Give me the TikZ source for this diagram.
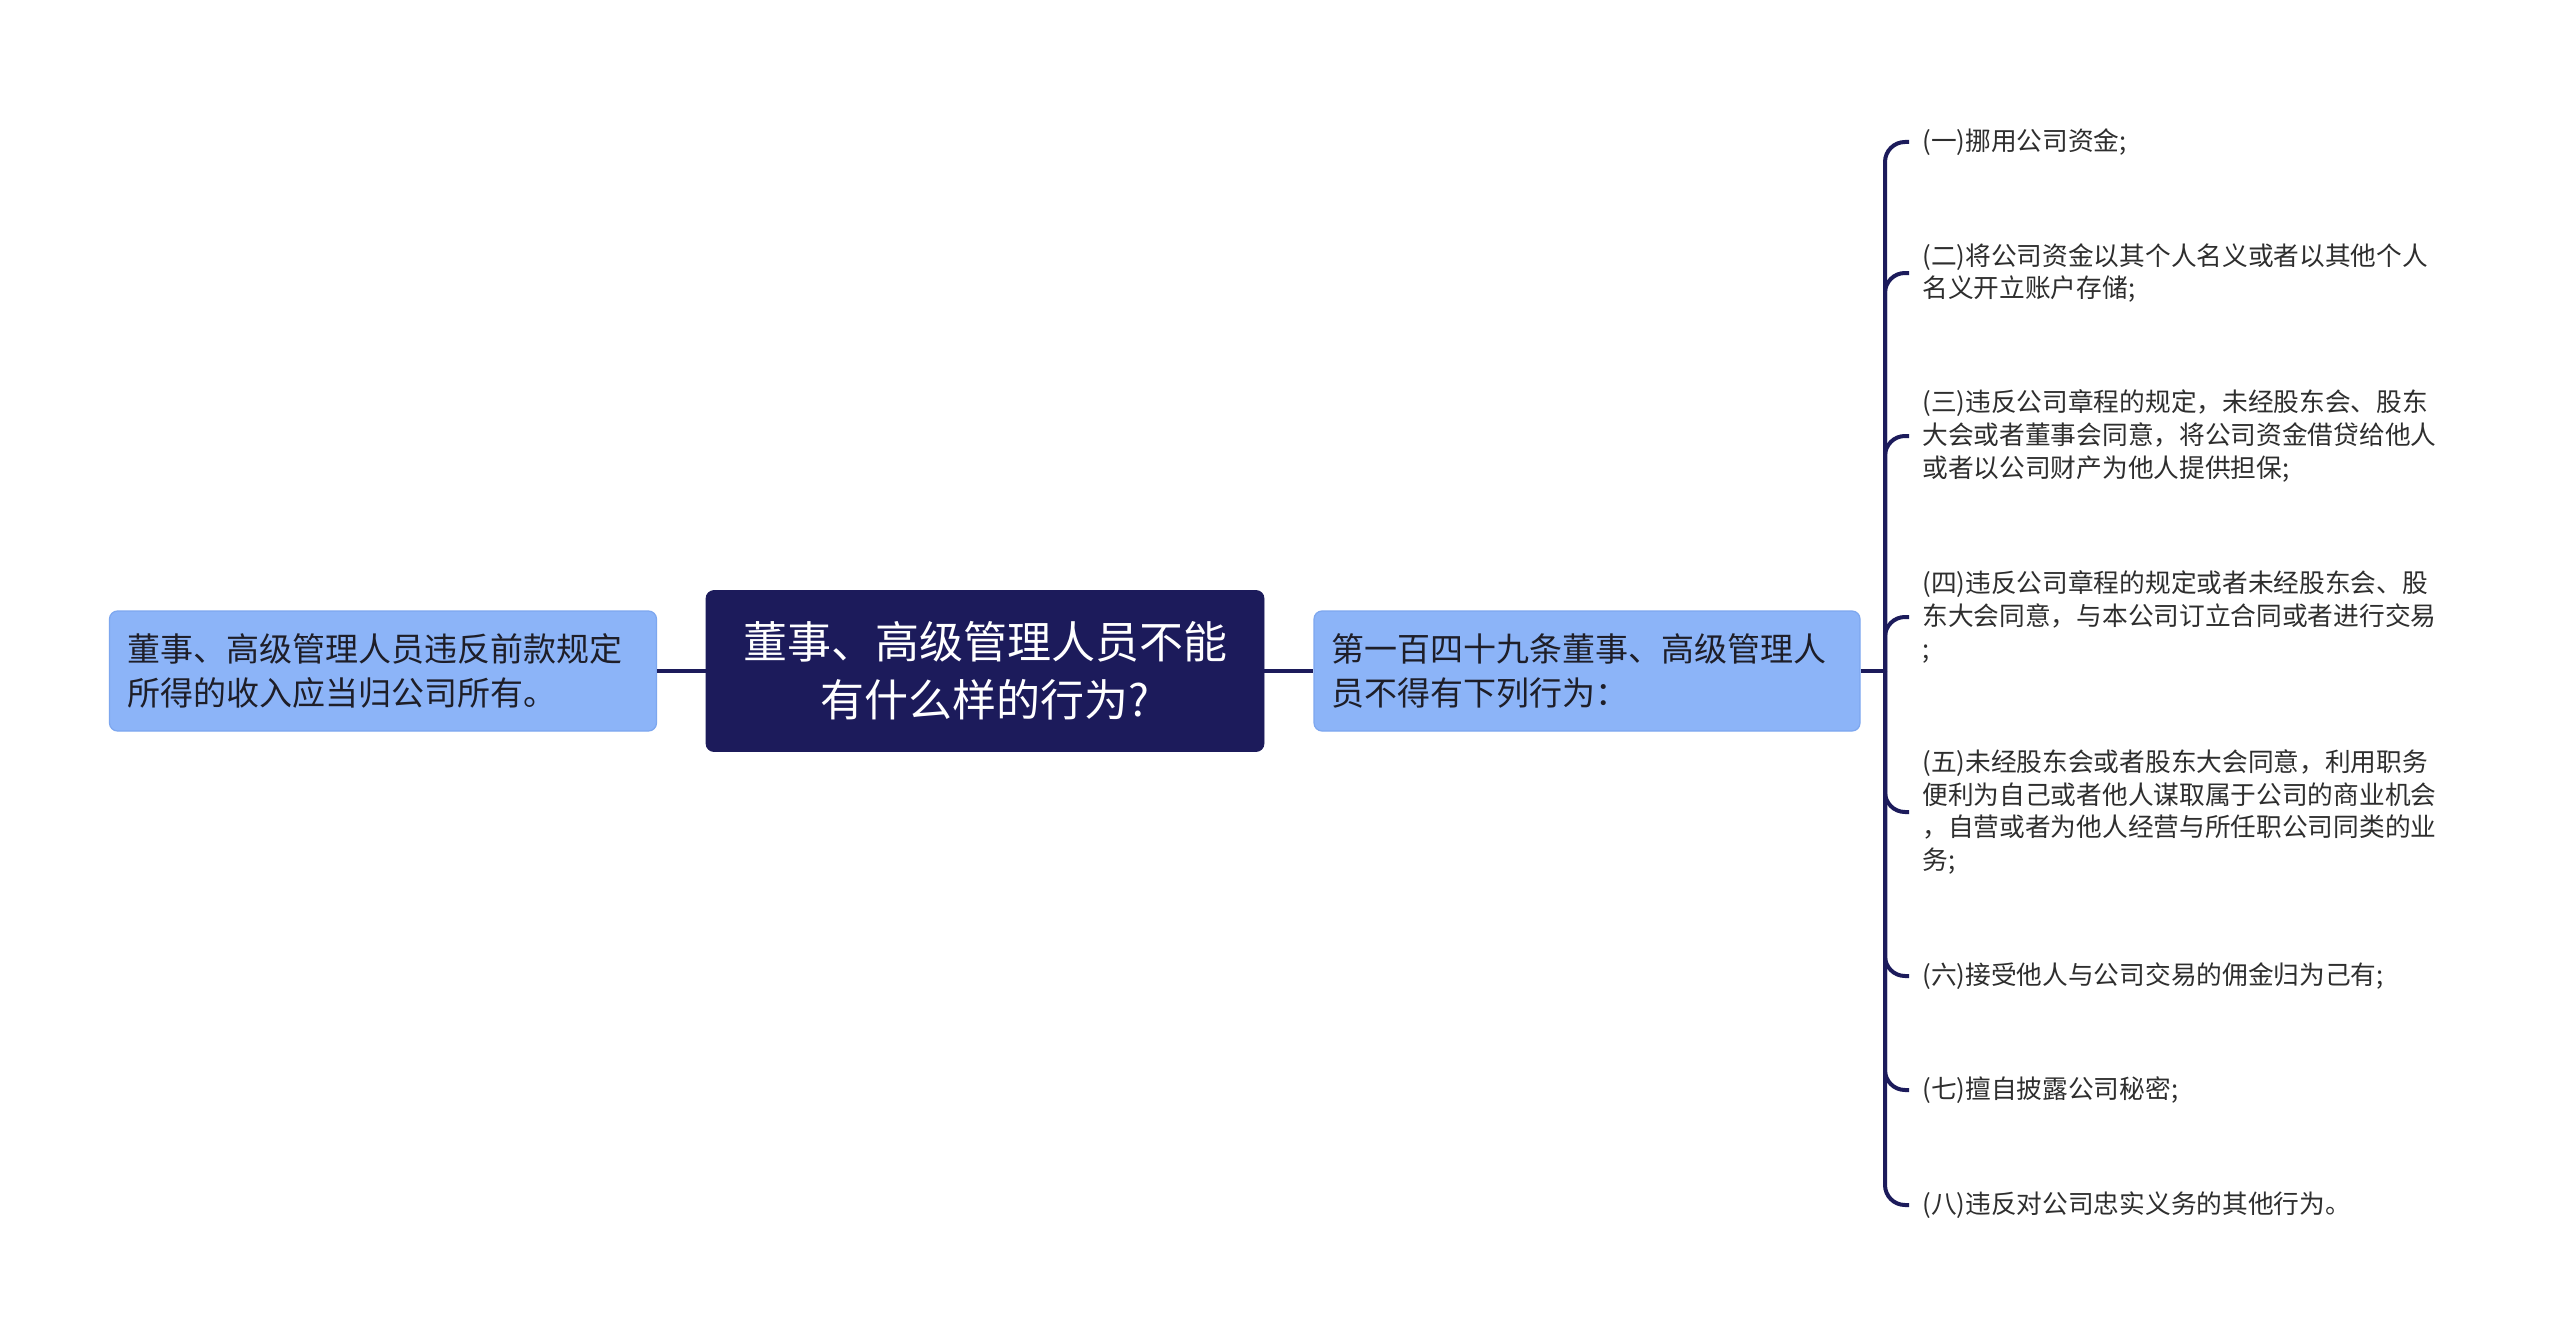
\documentclass[tikz,border=0pt]{standalone}
\usepackage{fontspec}
\setmainfont{Noto Sans CJK SC}
\definecolor{navy}{HTML}{1C1B5B}
\definecolor{lblue}{HTML}{8CB4F8}
\definecolor{lborder}{HTML}{7DA7EF}
\definecolor{textdark}{HTML}{1E1E28}
\definecolor{leaftext}{HTML}{2E2E2E}
\begin{document}
\begin{tikzpicture}[x=0.5pt,y=-0.5pt,
  rootbox/.style={fill=navy, draw=navy, rounded corners=4pt, text=white,
    font=\fontsize{22pt}{29pt}\selectfont, align=center,
    minimum width=279pt, minimum height=80.5pt, inner sep=0pt},
  sidebox/.style={fill=lblue, draw=lborder, line width=0.6pt, rounded corners=4pt,
    text=textdark, font=\fontsize{16.5pt}{22pt}\selectfont, align=left,
    minimum height=60pt, inner ysep=0pt},
  leaf/.style={anchor=west, font=\fontsize{12.85pt}{16.4pt}\selectfont,
    text=leaftext, align=left, inner xsep=6.5pt, inner ysep=2pt},
  link/.style={draw=navy, line width=2pt}]
\useasboundingbox[fill=white] (0,0) rectangle (2560,1343);

\node[rootbox] (root) at (985,671) {董事、高级管理人员不能\\有什么样的行为?};
\node[sidebox, text width=255.5pt, inner xsep=9pt] (left) at (383,671)
  {董事、高级管理人员违反前款规定\\所得的收入应当归公司所有。};
\node[sidebox, text width=256pt, inner xsep=8.5pt] (right) at (1587,671)
  {第一百四十九条董事、高级管理人\\员不得有下列行为：};

\node[leaf] (l1) at (1909,142) {(一)挪用公司资金;};
\node[leaf] (l2) at (1909,273) {(二)将公司资金以其个人名义或者以其他个人\\名义开立账户存储;};
\node[leaf] (l3) at (1909,436) {(三)违反公司章程的规定，未经股东会、股东\\大会或者董事会同意，将公司资金借贷给他人\\或者以公司财产为他人提供担保;};
\node[leaf] (l4) at (1909,617) {(四)违反公司章程的规定或者未经股东会、股\\东大会同意，与本公司订立合同或者进行交易\\;};
\node[leaf] (l5) at (1909,812) {(五)未经股东会或者股东大会同意，利用职务\\便利为自己或者他人谋取属于公司的商业机会\\，自营或者为他人经营与所任职公司同类的业\\务;};
\node[leaf] (l6) at (1909,976) {(六)接受他人与公司交易的佣金归为己有;};
\node[leaf] (l7) at (1909,1090) {(七)擅自披露公司秘密;};
\node[leaf] (l8) at (1909,1205) {(八)违反对公司忠实义务的其他行为。};

\draw[link] (left.east) -- (root.west);
\draw[link] (root.east) -- (right.west);
\coordinate (J) at (1885,671);
\draw[link] (right.east) -- (J);
\foreach \n in {l1,l2,l3,l4,l5,l6,l7,l8}
  \draw[link, rounded corners=10pt] (J) -- (J |- \n.west) -- (\n.west);
\end{tikzpicture}
\end{document}
